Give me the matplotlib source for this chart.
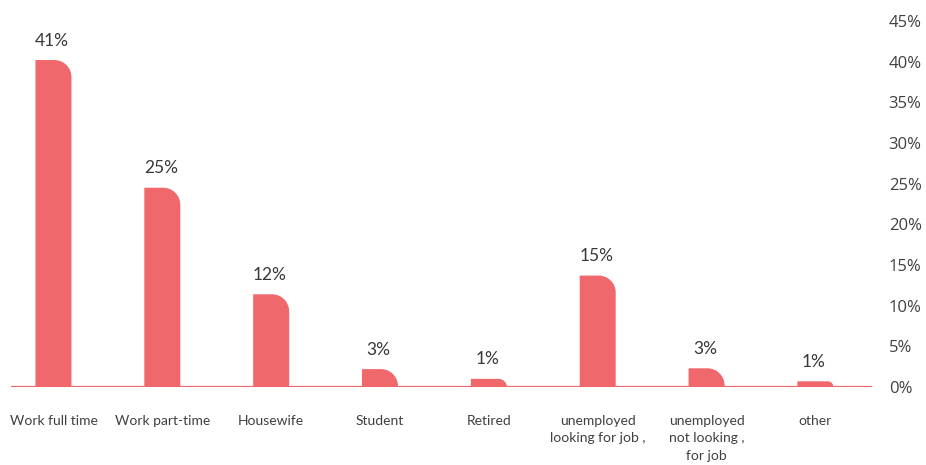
import matplotlib
matplotlib.use("Agg")
import matplotlib.pyplot as plt
from matplotlib.path import Path
from matplotlib.patches import PathPatch

categories = ["Work full time", "Work part-time", "Housewife", "Student", "Retired",
              "unemployed\nlooking for job ,", "unemployed\nnot looking ,\nfor job", "other"]
values = [40.2, 24.5, 11.4, 2.2, 1.0, 13.7, 2.3, 0.7]
value_labels = ["41%", "25%", "12%", "3%", "1%", "15%", "3%", "1%"]
yticks = [0, 5, 10, 15, 20, 25, 30, 35, 40, 45]
ytick_labels = ["0%", "5%", "10%", "15%", "20%", "25%", "30%", "35%", "40%", "45%"]

BAR = "#F0686B"
W, H = 926, 465
fig = plt.figure(figsize=(W / 100, H / 100), dpi=100)
left, right, bottom, top = 11, 872, 387, 21
ax = fig.add_axes([left / W, 1 - bottom / H, (right - left) / W, (bottom - top) / H])
ax.set_xlim(-0.39, 7.52)
ax.set_ylim(0, 45)

ppx = (right - left) / (7.52 + 0.39)
ppy = (bottom - top) / 45.0
bw = 36 / ppx
k = 0.5523
for i, h in enumerate(values):
    x0, x1 = i - bw / 2, i + bw / 2
    r_px = min(17, h * ppy)
    rx, ry = r_px / ppx, r_px / ppy
    cx, cy = x1 - rx, h - ry
    verts = [(x0, 0), (x0, h), (cx, h),
             (cx + k * rx, h), (x1, cy + k * ry), (x1, cy),
             (x1, 0), (x0, 0)]
    codes = [Path.MOVETO, Path.LINETO, Path.LINETO,
             Path.CURVE4, Path.CURVE4, Path.CURVE4,
             Path.LINETO, Path.CLOSEPOLY]
    ax.add_patch(PathPatch(Path(verts, codes), facecolor=BAR, edgecolor="none", zorder=3))
    ax.annotate(value_labels[i], (i, h), xytext=(-1, 14), textcoords="offset points",
                ha="center", va="center", fontsize=12.5, color="#383838",
                family=["Lato", "DejaVu Sans"])

ax.axhline(0, color=BAR, lw=1.6, zorder=2)
for s in ax.spines.values():
    s.set_visible(False)

ax.set_xticks(range(len(categories)))
ax.set_xticklabels(categories, fontsize=10, color="#404040", family=["Lato", "DejaVu Sans"],
                   linespacing=1.55, va="top")
ax.tick_params(axis="x", length=0, pad=20)

ax.yaxis.tick_right()
ax.set_yticks(yticks)
ax.set_yticklabels(ytick_labels, fontsize=12, color="#404040", family=["Open Sans", "DejaVu Sans"])
ax.tick_params(axis="y", length=0, pad=12)

fig.savefig("out.png", dpi=100)
